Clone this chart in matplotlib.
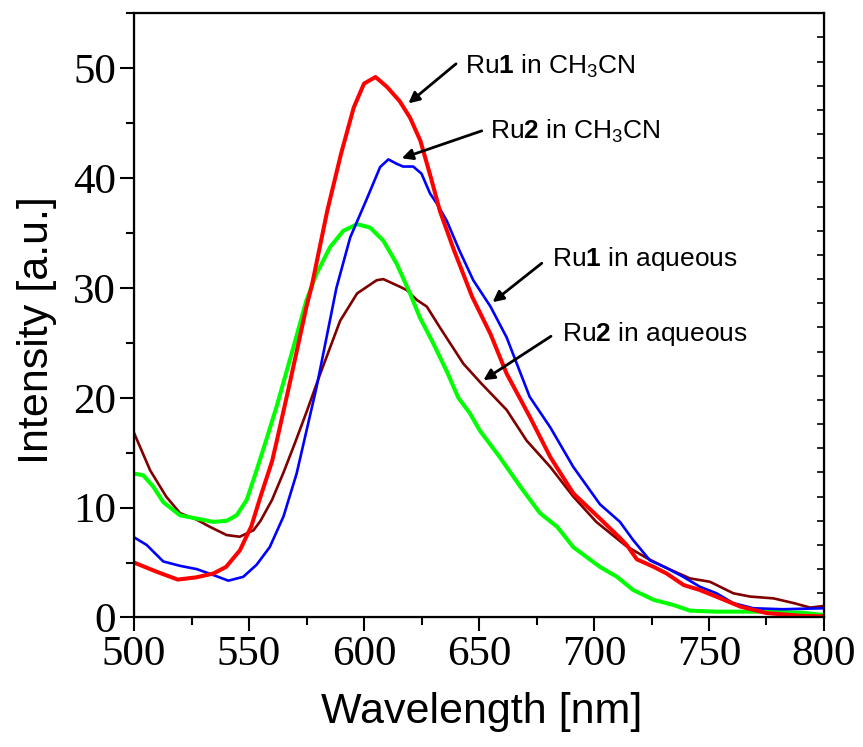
import matplotlib
matplotlib.use("Agg")
import matplotlib.pyplot as plt
from matplotlib.ticker import MultipleLocator

# ---- data ----
ru1_ch3cn_x = [500, 510, 519, 527, 534.5, 540, 546, 551, 555, 560, 562, 568, 575, 577.3, 584, 590,
               595.5, 600, 605, 610, 615.5, 620, 624.5, 629, 633, 639, 647, 655, 662, 672, 681, 691,
               702.6, 711, 714.2, 718.6, 726, 731.6, 739, 746, 755, 763.5, 775, 790, 800]
ru1_ch3cn_y = [5.0, 4.15, 3.45, 3.65, 4.0, 4.6, 6.1, 8.3, 11.0, 14.2, 16.0, 21.6, 28.3, 30.2, 37.0, 42.2,
               46.4, 48.6, 49.2, 48.3, 47.0, 45.5, 43.4, 40.1, 37.0, 33.5, 29.2, 25.8, 22.2, 18.3, 14.6, 11.3,
               9.0, 7.3, 6.6, 5.3, 4.6, 4.0, 2.95, 2.5, 1.74, 1.0, 0.4, 0.15, 0.1]

ru2_ch3cn_x = [500, 505.5, 512.7, 520, 527.3, 534.5, 541, 547.5, 553.3, 559, 565, 570.7, 574, 579.4,
               584, 588, 594, 601, 607, 610.6, 614.2, 617, 621.4, 625, 628.7, 631.6, 636, 641.5, 647.5,
               655, 662, 672, 681, 691, 702.6, 711.3, 717, 724.3, 731.6, 738.8, 746, 753.3, 760.6,
               769.3, 782, 800]
ru2_ch3cn_y = [7.3, 6.6, 5.1, 4.7, 4.4, 3.86, 3.35, 3.7, 4.8, 6.4, 9.2, 13.1, 16.1, 21.0,
               25.8, 30.0, 34.6, 38.0, 41.0, 41.7, 41.3, 41.05, 41.05, 40.4, 38.6, 37.7, 36.1, 33.4, 30.7,
               28.3, 25.5, 20.1, 17.3, 13.7, 10.3, 8.7, 7.05, 5.2, 4.5, 3.7, 2.8, 2.2, 1.3,
               0.84, 0.75, 0.84]

ru1_aq_x = [500, 504, 508.4, 512.7, 520, 527.3, 534.5, 540.3, 544.6, 549, 553.3, 557.7, 562, 569.3,
            575, 579.4, 585.2, 591, 597, 602.6, 608.4, 614.2, 620, 624.3, 630, 636, 641, 646, 650.4,
            659, 668, 676.5, 684, 691, 702.6, 710, 717, 726, 734.5, 741.7, 753, 775, 790, 800]
ru1_aq_y = [13.1, 12.95, 11.9, 10.5, 9.3, 9.0, 8.7, 8.8, 9.3, 10.7, 13.4, 16.3, 19.2, 24.6,
            28.9, 31.3, 33.7, 35.2, 35.8, 35.5, 34.3, 32.2, 29.5, 27.3, 25.0, 22.4, 20.0, 18.6, 17.0,
            14.6, 11.9, 9.5, 8.25, 6.4, 4.6, 3.7, 2.5, 1.6, 1.14, 0.62, 0.53, 0.53, 0.44, 0.23]

ru2_aq_x = [500, 507, 514, 520, 527.3, 533, 540.3, 546, 552, 555, 560, 565, 570, 575, 581, 589.6,
            597, 605.5, 608.4, 615.7, 618.6, 623, 627.3, 633, 643.2, 651, 662, 670.7, 681, 691, 701,
            714, 723, 731.6, 741.7, 750.4, 760.6, 768, 778, 787, 794, 800]
ru2_aq_y = [16.8, 13.4, 11.0, 9.5, 8.9, 8.25, 7.5, 7.35, 7.95, 8.8, 10.7, 13.2, 15.9, 18.7, 22.2, 27.0,
            29.5, 30.7, 30.8, 30.1, 29.8, 28.9, 28.3, 26.4, 23.1, 21.3, 18.9, 16.1, 13.7, 11.0, 8.7,
            6.5, 5.4, 4.5, 3.56, 3.25, 2.2, 1.9, 1.74, 1.3, 0.9, 1.05]

x_ticks = [500, 550, 600, 650, 700, 750, 800]
y_ticks = [0, 10, 20, 30, 40, 50]

labels = [r"Ru$\mathbf{1}$ in CH$_3$CN", r"Ru$\mathbf{2}$ in CH$_3$CN",
          r"Ru$\mathbf{1}$ in aqueous", r"Ru$\mathbf{2}$ in aqueous"]

# ---- style ----
plt.rcParams['mathtext.fontset'] = 'custom'
plt.rcParams['mathtext.rm'] = 'Liberation Sans'
plt.rcParams['mathtext.bf'] = 'Liberation Sans:bold'
plt.rcParams['mathtext.it'] = 'Liberation Sans'

fig = plt.figure(figsize=(8.63, 7.47), dpi=100)
ax = fig.add_axes([0.1553, 0.1734, 0.7995, 0.8088])

ax.plot(ru2_aq_x, ru2_aq_y, color='#800000', lw=1.9)
ax.plot(ru1_aq_x, ru1_aq_y, color='#00FF00', lw=2.9)
ax.plot(ru2_ch3cn_x, ru2_ch3cn_y, color='#0000FF', lw=1.9)
ax.plot(ru1_ch3cn_x, ru1_ch3cn_y, color='#FF0000', lw=2.9)

ax.set_xlim(500, 800)
ax.set_ylim(0, 55)
ax.set_xticks(x_ticks)
ax.set_yticks(y_ticks)
ax.xaxis.set_minor_locator(MultipleLocator(25))
ax.yaxis.set_minor_locator(MultipleLocator(5))
ax.tick_params(which='major', direction='out', length=10, width=1.5, pad=3)
ax.tick_params(which='minor', direction='out', length=6, width=1.5)
ax.tick_params(top=False, right=False, which='both')
for lab in ax.get_xticklabels() + ax.get_yticklabels():
    lab.set_family('Liberation Serif')
    lab.set_fontsize(31)
for sp in ax.spines.values():
    sp.set_linewidth(1.6)

axr = ax.twinx()
axr.set_ylim(0, 25)
axr.yaxis.set_major_locator(MultipleLocator(1))
axr.tick_params(direction='in', length=5, width=1.2, labelright=False)

ax.set_xlabel("Wavelength [nm]", family='Liberation Sans', fontsize=31, va='center', ha='center')
ax.set_ylabel("Intensity [a.u.]", family='Liberation Sans', fontsize=31, va='center', ha='center')
ax.xaxis.set_label_coords(0.504, -0.157)
ax.yaxis.set_label_coords(-0.14, 0.476)

# annotations: text (left, baseline) and arrows (tail -> head)
text_pos = [(643.9, 49.5), (654.8, 43.6), (681.6, 32.0), (685.9, 25.2)]
arrow_tail = [(640.0, 50.4), (651.2, 44.3), (677.3, 32.25), (681.3, 25.6)]
arrow_head = [(619.3, 46.8), (616.4, 41.8), (655.9, 28.7), (651.9, 21.6)]

for lab, tp, tail, head in zip(labels, text_pos, arrow_tail, arrow_head):
    ax.text(tp[0], tp[1], lab, fontsize=19, family='Liberation Sans',
            ha='left', va='baseline')
    ax.annotate('', xy=head, xytext=tail,
                arrowprops=dict(arrowstyle='-|>', color='black', lw=2,
                                mutation_scale=16, shrinkA=0, shrinkB=0))

fig.savefig("out.png", dpi=100)
